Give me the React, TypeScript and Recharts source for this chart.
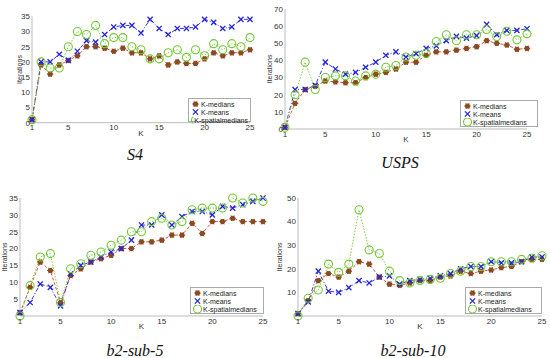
import { Label, Line, LineChart, XAxis, YAxis } from 'recharts';

const kValues = [1, 2, 3, 4, 5, 6, 7, 8, 9, 10, 11, 12, 13, 14, 15, 16, 17, 18, 19, 20, 21, 22, 23, 24, 25];
const kTicks = [1, 5, 10, 15, 20, 25];

const s4Medians = [1, 19, 16, 19, 20.5, 22, 25, 25, 24.5, 23.5, 24.5, 23, 23, 21, 22, 19, 20, 19.5, 19.5, 21, 23, 22, 23, 23, 24];
const s4Means = [1, 20, 20, 22.5, 20.5, 23.5, 27, 26.5, 29, 31.5, 32, 32, 29.5, 34, 31, 29, 31, 31, 31.5, 34, 33, 31, 31.5, 34, 34];
const s4Spatial = [1, 20, 18, 18, 25, 30, 29, 32, 26, 28, 28, 25, 24, 21, 21, 23, 24, 21.5, 24, 22, 26, 24, 26, 25, 28];

const uspsMedians = [1, 15, 23, 25, 28, 27.5, 27, 27, 30, 32, 33, 35, 39, 39, 43, 45, 45, 46, 47, 48, 51.5, 50, 49, 46.5, 47];
const uspsMeans = [1, 23, 23, 25.5, 39, 35, 32, 33, 36, 39, 43, 45, 42, 44, 47, 48.5, 51.5, 54, 53, 54.5, 61, 55, 57.5, 57.5, 58.5];
const uspsSpatial = [1, 20, 39, 23, 30, 31, 31, 28, 31, 32, 36, 37, 42, 43, 44, 51, 55, 51.5, 55, 55, 58, 54, 57, 52, 55.5];

const b5Medians = [1, 8.5, 16, 13.5, 4, 12, 14, 16, 17, 18, 20, 20, 22, 22, 22.5, 24, 24, 27.5, 24.5, 28, 28, 29, 28, 28, 28];
const b5Means = [1, 4, 9.5, 8.5, 3, 12.5, 15, 16, 17.5, 19, 20, 22.5, 27, 27, 30, 27, 29.5, 31, 31, 30, 32.5, 32, 33, 34, 35];
const b5Spatial = [0, 9, 17.5, 18.5, 4, 14, 15.5, 18, 19, 21, 22.5, 25, 25, 28, 29, 27, 28, 31.5, 32, 32, 32, 35, 33.5, 35, 34];

const b10Medians = [1, 6.5, 15, 18, 16.5, 19, 23, 22, 16.5, 13.5, 13, 14, 15, 15, 16.5, 17, 19, 18, 19, 19.5, 20.5, 21, 23, 24, 24];
const b10Means = [1, 6, 19, 10.5, 10, 12, 15, 14, 16.5, 17, 13.5, 15, 15.5, 16, 17, 18, 20, 21, 21, 23, 22.5, 22.5, 23, 25, 25];
const b10Spatial = [0, 7.5, 11, 22, 18.5, 22, 45, 28, 26.5, 19, 15, 14, 15, 15.5, 16, 18, 19, 21, 21, 23, 23, 23, 24, 24.5, 25.5];

const seriesNames = ['K-medians', 'K-means', 'K-spatialmedians'];

const W = 550;
const H = 358;
const YW = 16;
const XH = 14;
const FONT = '"Liberation Sans", Arial, sans-serif';
const tickStyle = { fontSize: 8, fill: '#333', fontFamily: FONT };

interface DotProps {
  cx?: number;
  cy?: number;
  index?: number;
}

function medianDot({ cx, cy, index }: DotProps) {
  if (cx == null || cy == null) return <g key={`m-${index}`} />;
  return (
    <g key={`m-${index}`}>
      <circle cx={cx} cy={cy} r={2.6} fill="#8b4a22" />
      <path
        d={`M${cx - 3.2},${cy} L${cx + 3.2},${cy} M${cx - 1.6},${cy - 2.8} L${cx + 1.6},${cy + 2.8} M${cx + 1.6},${cy - 2.8} L${cx - 1.6},${cy + 2.8}`}
        stroke="#8b4a22"
        strokeWidth={1}
      />
    </g>
  );
}

function meanDot({ cx, cy, index }: DotProps) {
  if (cx == null || cy == null) return <g key={`x-${index}`} />;
  const s = 2.6;
  return (
    <path
      key={`x-${index}`}
      d={`M${cx - s},${cy - s} L${cx + s},${cy + s} M${cx + s},${cy - s} L${cx - s},${cy + s}`}
      stroke="#2424d8"
      strokeWidth={1.3}
    />
  );
}

function spatialDot({ cx, cy, index }: DotProps) {
  if (cx == null || cy == null) return <g key={`o-${index}`} />;
  return <circle key={`o-${index}`} cx={cx} cy={cy} r={4} fill="none" stroke="#72c832" strokeWidth={1.1} />;
}

interface PanelProps {
  title: string;
  medians: number[];
  means: number[];
  spatial: number[];
  yMax: number;
  yTicks: number[];
  x0: number;
  y0: number;
  x1: number;
  y1: number;
  yLabelX: number;
  legend: { x: number; y: number; w: number; h: number };
  titleX: number;
  titleY: number;
}

function Panel(p: PanelProps) {
  const data = kValues.map((k, i) => ({ k, medians: p.medians[i], means: p.means[i], spatial: p.spatial[i] }));
  const midY = (p.y0 + p.y1) / 2;
  return (
    <>
      <div style={{ position: 'absolute', left: 0, top: 0 }}>
        <LineChart
          width={W}
          height={H}
          data={data}
          margin={{ left: p.x0 - YW, top: p.y0, right: W - p.x1, bottom: H - p.y1 - XH }}
        >
          <XAxis
            type="number"
            dataKey="k"
            domain={[1, 25]}
            ticks={kTicks}
            height={XH}
            tickSize={0}
            tickMargin={2}
            tick={tickStyle}
            axisLine={{ stroke: '#bbb' }}
          >
            <Label
              content={() => (
                <text x={(p.x0 + p.x1) / 2} y={p.y1 + 13} textAnchor="middle" fontSize={8} fill="#333" fontFamily={FONT}>
                  K
                </text>
              )}
            />
          </XAxis>
          <YAxis
            type="number"
            domain={[0, p.yMax]}
            ticks={p.yTicks}
            width={YW}
            tickSize={0}
            tickMargin={2}
            tick={tickStyle}
            axisLine={{ stroke: '#bbb' }}
            interval={0}
          >
            <Label
              content={() => (
                <text
                  x={p.yLabelX}
                  y={midY}
                  transform={`rotate(-90 ${p.yLabelX} ${midY})`}
                  textAnchor="middle"
                  dominantBaseline="middle"
                  fontSize={7}
                  fill="#333"
                  fontFamily={FONT}
                >
                  Iterations
                </text>
              )}
            />
          </YAxis>
          <Line dataKey="medians" stroke="#d2462a" strokeWidth={0.9} strokeDasharray="3 2" dot={medianDot} isAnimationActive={false} />
          <Line dataKey="means" stroke="#2424d8" strokeWidth={0.9} strokeDasharray="4 2 1 2" dot={meanDot} isAnimationActive={false} />
          <Line dataKey="spatial" stroke="#72c832" strokeWidth={0.9} strokeDasharray="1.5 1.5" dot={spatialDot} isAnimationActive={false} />
        </LineChart>
      </div>
      <div
        style={{
          position: 'absolute',
          left: p.legend.x,
          top: p.legend.y,
          width: p.legend.w,
          height: p.legend.h,
          boxSizing: 'border-box',
          border: '1px solid #aaa',
          background: '#fff',
          fontFamily: FONT,
          fontSize: 7,
          color: '#222',
          padding: '1px 2px',
          display: 'flex',
          flexDirection: 'column',
          justifyContent: 'space-around',
        }}
      >
        {seriesNames.map((name, i) => (
          <div key={name} style={{ display: 'flex', alignItems: 'center', lineHeight: '7px', whiteSpace: 'nowrap' }}>
            <svg width={9} height={8} style={{ marginRight: 1 }}>
              {i === 0 && medianDot({ cx: 4.5, cy: 4, index: 0 })}
              {i === 1 && meanDot({ cx: 4.5, cy: 4, index: 0 })}
              {i === 2 && spatialDot({ cx: 4.5, cy: 4, index: 0 })}
            </svg>
            {name}
          </div>
        ))}
      </div>
      <div
        style={{
          position: 'absolute',
          left: p.titleX - 60,
          top: p.titleY - 10,
          width: 120,
          textAlign: 'center',
          fontFamily: '"Liberation Serif", "DejaVu Serif", serif',
          fontStyle: 'italic',
          fontSize: 16,
          lineHeight: '20px',
          color: '#111',
        }}
      >
        {p.title}
      </div>
    </>
  );
}

export default function App() {
  return (
    <div style={{ position: 'absolute', left: 0, top: 0, width: W, height: H, background: '#fff', overflow: 'hidden' }}>
      <Panel
        title="S4"
        medians={s4Medians}
        means={s4Means}
        spatial={s4Spatial}
        yMax={35}
        yTicks={[0, 5, 10, 15, 20, 25, 30, 35]}
        x0={32}
        y0={16.3}
        x1={250}
        y1={122.7}
        yLabelX={20}
        legend={{ x: 188, y: 98, w: 63, h: 24 }}
        titleX={135}
        titleY={155}
      />
      <Panel
        title="USPS"
        medians={uspsMedians}
        means={uspsMeans}
        spatial={uspsSpatial}
        yMax={70}
        yTicks={[0, 10, 20, 30, 40, 50, 60, 70]}
        x0={285}
        y0={9}
        x1={527}
        y1={129}
        yLabelX={270}
        legend={{ x: 460, y: 100, w: 78, h: 27 }}
        titleX={400}
        titleY={163}
      />
      <Panel
        title="b2-sub-5"
        medians={b5Medians}
        means={b5Means}
        spatial={b5Spatial}
        yMax={35}
        yTicks={[5, 10, 15, 20, 25, 30, 35]}
        x0={20}
        y0={198}
        x1={263}
        y1={316}
        yLabelX={5}
        legend={{ x: 190, y: 287, w: 74, h: 27 }}
        titleX={135}
        titleY={351}
      />
      <Panel
        title="b2-sub-10"
        medians={b10Medians}
        means={b10Means}
        spatial={b10Spatial}
        yMax={50}
        yTicks={[10, 20, 30, 40, 50]}
        x0={298}
        y0={198}
        x1={542}
        y1={316}
        yLabelX={280}
        legend={{ x: 465, y: 287, w: 77, h: 27 }}
        titleX={413}
        titleY={351}
      />
    </div>
  );
}
